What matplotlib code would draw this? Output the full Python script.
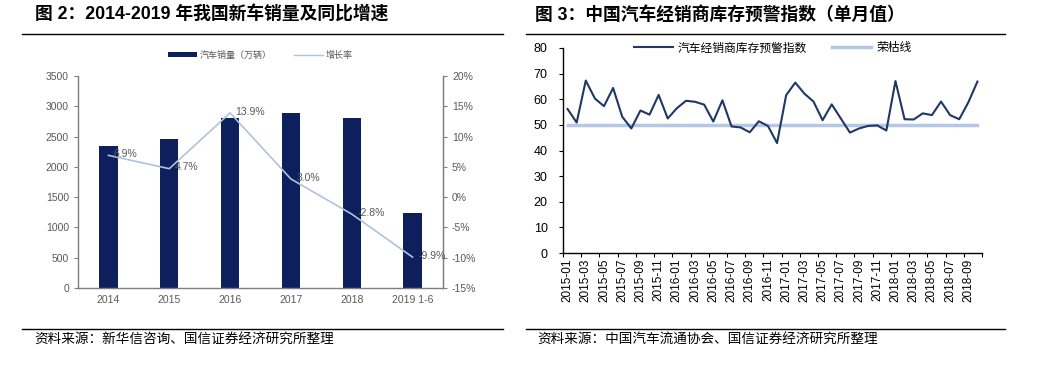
import matplotlib
matplotlib.use("Agg")
import matplotlib.pyplot as plt
from matplotlib.lines import Line2D
from matplotlib.patches import Patch
import numpy as np

plt.rcParams['font.family'] = ['Liberation Sans', 'Noto Sans CJK SC', 'DejaVu Sans']

# ---- data: left chart ----
years = ["2014", "2015", "2016", "2017", "2018", "2019 1-6"]
sales = [2349, 2460, 2803, 2888, 2808, 1232]
growth = [6.9, 4.7, 13.9, 3.0, -2.8, -9.9]
growth_labels = ["6.9%", "4.7%", "13.9%", "3.0%", "-2.8%", "-9.9%"]

# ---- data: right chart ----
months = ["2015-01", "2015-02", "2015-03", "2015-04", "2015-05", "2015-06", "2015-07", "2015-08",
          "2015-09", "2015-10", "2015-11", "2015-12", "2016-01", "2016-02", "2016-03", "2016-04",
          "2016-05", "2016-06", "2016-07", "2016-08", "2016-09", "2016-10", "2016-11", "2016-12",
          "2017-01", "2017-02", "2017-03", "2017-04", "2017-05", "2017-06", "2017-07", "2017-08",
          "2017-09", "2017-10", "2017-11", "2017-12", "2018-01", "2018-02", "2018-03", "2018-04",
          "2018-05", "2018-06", "2018-07", "2018-08", "2018-09", "2018-10"]
index_vals = [56.2, 50.9, 67.3, 60.3, 57.3, 64.4, 53.2, 48.6, 55.6, 54.0, 61.7, 52.5,
              56.5, 59.4, 59.0, 57.9, 51.3, 59.6, 49.4, 49.0, 47.1, 51.4, 49.6, 42.9,
              61.6, 66.5, 62.2, 59.1, 51.8, 58.0, 52.5, 47.0, 48.6, 49.6, 49.8, 47.8,
              67.1, 52.2, 52.1, 54.5, 53.8, 59.1, 53.8, 52.2, 58.8, 66.9]
boom_line = 50

W, H = 1053, 379
fig = plt.figure(figsize=(W / 100, H / 100), dpi=100)
fig.patch.set_facecolor("white")


def rect(l, t, r, b):
    return [l / W, 1 - b / H, (r - l) / W, (b - t) / H]


def hline(x0, x1, y, lw=1.0):
    fig.add_artist(Line2D([x0 / W, x1 / W], [1 - y / H, 1 - y / H], color="black", lw=lw))


CJK = ['Liberation Sans', 'Noto Sans CJK SC']

# ---- titles, separators, sources ----
fig.text(35 / W, 1 - 15 / H, "图 2：2014-2019 年我国新车销量及同比增速", fontsize=12.8,
         fontweight="bold", family=CJK, va="center", ha="left")
fig.text(535 / W, 1 - 15 / H, "图 3：中国汽车经销商库存预警指数（单月值）", fontsize=12.8,
         fontweight="bold", family=CJK, va="center", ha="left")
hline(22, 503, 34)
hline(526, 1005, 34)
hline(22, 503, 329)
hline(526, 1005, 329)
fig.text(34 / W, 1 - 339 / H, "资料来源：新华信咨询、国信证券经济研究所整理", fontsize=9.8,
         family=['Noto Sans CJK SC'], va="center", ha="left")
fig.text(537 / W, 1 - 339 / H, "资料来源：中国汽车流通协会、国信证券经济研究所整理", fontsize=9.8,
         family=['Noto Sans CJK SC'], va="center", ha="left")

# ---- left chart ----
grey = "#7f7f7f"
tgrey = "#595959"
bar_c = "#0d1f5c"
line_c = "#adc3e0"

ax1 = fig.add_axes(rect(78, 76, 443, 288))
x = np.arange(len(years))
ax1.bar(x, sales, width=0.3, color=bar_c, zorder=2)
ax1.set_xlim(-0.5, len(years) - 0.5)
ax1.set_ylim(0, 3500)
ax1.set_yticks(np.arange(0, 3501, 500))
ax1.set_xticks(x)
ax1.set_xticklabels(years)
ax1.spines["top"].set_visible(False)
for s in ["left", "bottom", "right"]:
    ax1.spines[s].set_color(grey)
    ax1.spines[s].set_linewidth(1.0)
ax1.tick_params(axis="y", colors=grey, labelcolor=tgrey, labelsize=7.5, length=3, direction="out")
ax1.tick_params(axis="x", length=0, labelcolor=tgrey, labelsize=7.5, pad=5)

ax2 = ax1.twinx()
ax2.plot(x, growth, color=line_c, lw=1.2, zorder=3)
ax2.set_ylim(-15, 20)
ax2.set_yticks(np.arange(-15, 21, 5))
ax2.set_yticklabels([f"{v}%" for v in range(-15, 21, 5)])
ax2.spines["top"].set_visible(False)
ax2.spines["right"].set_color(grey)
ax2.spines["left"].set_visible(False)
ax2.spines["bottom"].set_visible(False)
ax2.tick_params(axis="y", colors=grey, labelcolor=tgrey, labelsize=7.5, length=3, direction="out")
for xi, gv, lab in zip(x, growth, growth_labels):
    ax2.annotate(lab, (xi, gv), xytext=(4, 1), textcoords="offset points", fontsize=7.5,
                 color=tgrey, ha="left", va="center")

handles = [Patch(facecolor=bar_c), Line2D([0], [0], color=line_c, lw=1)]
ax1.legend(handles, ["汽车销量（万辆）", "增长率"], loc="center", bbox_to_anchor=(0.5, 1 + 21 / 212),
           ncol=2, frameon=False, handlelength=3.2, handleheight=0.45,
           columnspacing=2.5, handletextpad=0.3, labelcolor=tgrey,
           prop={'family': ['Noto Sans CJK SC'], 'size': 6.5})

# ---- right chart ----
navy = "#1f3864"
light = "#b4c7e7"
ax3 = fig.add_axes(rect(563, 48, 982, 253))
xm = np.arange(len(months))
ax3.plot(xm, index_vals, color=navy, lw=1.5, label="汽车经销商库存预警指数", zorder=3)
ax3.plot(xm, [boom_line] * len(months), color=light, lw=2.5, label="荣枯线", zorder=2)
ax3.set_xlim(-0.5, len(months) - 0.5)
ax3.set_ylim(0, 80)
ax3.set_yticks(np.arange(0, 81, 10))
ax3.spines["top"].set_visible(False)
ax3.spines["right"].set_visible(False)
ax3.spines["left"].set_linewidth(1.0)
ax3.spines["bottom"].set_linewidth(1.0)
ax3.set_xticks(np.arange(-0.5, len(months), 2))
ax3.set_xticklabels([])
ax3.set_xticks(xm[::2], minor=True)
ax3.set_xticklabels(months[::2], minor=True, rotation=90, fontsize=8.5)
ax3.tick_params(axis="x", which="major", length=3, direction="out")
ax3.tick_params(axis="x", which="minor", length=0, pad=4)
ax3.tick_params(axis="y", length=3, direction="out", labelsize=9, pad=8)
ax3.legend(loc="center", bbox_to_anchor=(0.5, 1.0), ncol=2, frameon=False,
           prop={'family': ['Noto Sans CJK SC'], 'size': 8.5}, handlelength=3.3, columnspacing=2.2,
           handletextpad=0.4)

fig.savefig("out.png", dpi=100, facecolor="white")
